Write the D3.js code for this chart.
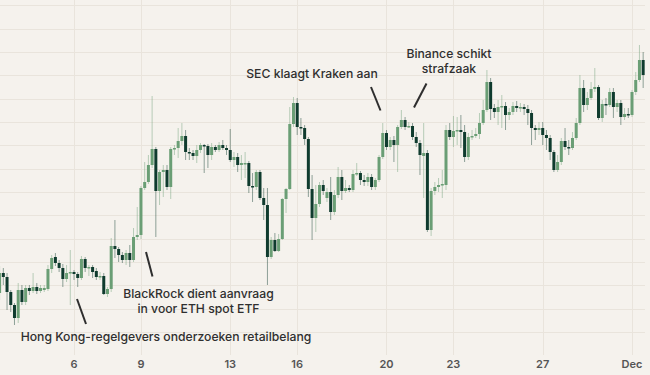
<!DOCTYPE html>
<html>
<head>
<meta charset="utf-8">
<script src="https://cdn.jsdelivr.net/npm/d3@7"></script>
<style>
  html, body { margin: 0; padding: 0; background: #f5f2ed; }
  #chart { width: 650px; height: 375px; }
  text { font-family: Inter, "Noto Sans", sans-serif; }
</style>
</head>
<body>
<div id="chart"></div>
<script>
// 4-hour candles, first one opens Nov 2 16:00 UTC
const firstCandle = new Date(Date.UTC(2023, 10, 2, 16));
const candleHours = 4;

const opens = [
  1839,1859,1855,1840,1827,1814,1842,1830,1844,1841,
  1845,1841,1842,1843,1863,1875,1869,1864,1853,1859,
  1860,1858,1854,1873,1864,1865,1861,1855,1856,1838,
  1843,1886,1883,1877,1872,1879,1872,1895,1897,1944,
  1950,1967,1983,1941,1960,1962,1945,1983,1984,1991,
  1996,1980,1979,1976,1982,1987,1986,1977,1985,1982,
  1987,1984,1982,1972,1975,1967,1968,1969,1946,1945,
  1960,1934,1927,1875,1892,1881,1893,1933,1943,2008,
  2029,2005,2004,1993,1943,1914,1928,1947,1934,1940,
  1920,1937,1955,1941,1944,1942,1958,1959,1952,1950,
  1955,1945,1952,1975,1999,1985,1992,1987,2005,2012,
  2005,2006,1995,1989,1976,1979,1902,1941,1945,1947,
  1947,2002,1995,2001,2002,2000,1975,1995,1996,1998,
  2009,2022,2050,2024,2020,2025,2026,2017,2020,2026,
  2024,2025,2023,2019,2004,2002,2004,1997,1994,1980,
  1962,1970,1991,1985,1984,1994,2009,2044,2027,2034,
  2043,2045,2014,2028,2027,2040,2025,2029,2015,2018,
  2017,2040,2052,2072
];
const highs = [
  1866,1864,1859,1842,1829,1849,1847,1847,1847,1859,
  1849,1847,1847,1867,1877,1879,1872,1868,1867,1882,
  1862,1860,1876,1875,1867,1867,1864,1860,1859,1845,
  1894,1912,1885,1880,1882,1887,1904,1925,1946,1970,
  1977,2036,1985,1962,1967,1967,1985,1987,2004,2009,
  2002,1984,1982,1987,1989,1988,1988,1989,1987,1990,
  1992,1987,2003,1980,1979,1977,1980,1971,1959,1962,
  1962,1944,1944,1895,1899,1898,1934,1944,2025,2035,
  2034,2014,2007,1995,1957,1947,1950,1952,1944,1955,
  1942,1965,1962,1952,1947,1962,1969,1961,1957,1959,
  1958,1954,1977,2009,2002,1995,1996,2007,2022,2015,
  2010,2009,2000,1992,2009,1982,1944,1950,1954,1962,
  2007,2009,2016,2015,2017,2007,1999,2002,2004,2019,
  2032,2062,2054,2028,2032,2037,2030,2024,2030,2031,
  2029,2028,2027,2022,2007,2010,2010,2002,1997,1982,
  1977,1994,2004,1992,2000,2014,2057,2052,2040,2050,
  2064,2047,2032,2034,2044,2044,2032,2032,2024,2024,
  2042,2060,2087,2080
];
const lows = [
  1832,1847,1822,1820,1807,1809,1827,1827,1837,1839,
  1838,1839,1840,1841,1859,1866,1860,1845,1850,1827,
  1852,1845,1852,1860,1856,1854,1852,1852,1837,1835,
  1840,1874,1870,1869,1867,1865,1870,1892,1893,1942,
  1948,1964,1895,1927,1935,1942,1933,1977,1974,1987,
  1972,1972,1972,1969,1979,1959,1964,1972,1980,1980,
  1982,1977,1970,1965,1960,1952,1954,1939,1930,1942,
  1932,1912,1847,1873,1880,1880,1892,1919,1942,2005,
  1997,1997,1987,1935,1892,1900,1925,1937,1930,1912,
  1917,1934,1932,1939,1940,1940,1956,1947,1946,1946,
  1942,1942,1950,1973,1982,1982,1970,1960,2003,2002,
  2004,1992,1985,1957,1934,1900,1896,1937,1940,1934,
  1942,1992,1985,1987,1984,1970,1972,1992,1994,1993,
  2007,2020,2012,2014,2007,2004,2002,2012,2017,2020,
  2020,2017,2007,1987,1992,1997,1987,1982,1972,1960,
  1960,1967,1982,1977,1982,1992,2007,2020,2022,2032,
  2040,2012,2010,2017,2025,2014,2020,2007,2012,2014,
  2015,2037,2050,2044
];
const closes = [
  1859,1855,1840,1827,1814,1842,1830,1844,1841,1845,
  1841,1844,1844,1863,1874,1869,1864,1853,1859,1860,
  1858,1854,1873,1864,1865,1860,1855,1856,1838,1843,
  1886,1883,1877,1872,1879,1872,1895,1897,1944,1950,
  1967,1983,1941,1960,1962,1945,1983,1984,1991,1996,
  1980,1979,1976,1982,1987,1986,1977,1985,1982,1987,
  1984,1982,1972,1975,1967,1969,1969,1946,1945,1960,
  1934,1927,1875,1892,1881,1893,1933,1943,2008,2029,
  2005,2004,1993,1943,1914,1928,1947,1941,1940,1920,
  1937,1955,1941,1944,1942,1958,1959,1952,1950,1955,
  1945,1952,1975,1999,1985,1992,1987,2005,2012,2005,
  2006,1995,1989,1977,1979,1902,1941,1945,1947,1948,
  2002,1995,2001,2002,2000,1975,1995,1996,1998,2009,
  2022,2050,2023,2020,2025,2026,2017,2020,2026,2024,
  2025,2023,2019,2004,2002,2004,1997,1994,1980,1962,
  1970,1991,1985,1984,1994,2009,2044,2027,2034,2043,
  2045,2014,2028,2027,2040,2025,2029,2015,2018,2017,
  2040,2052,2072,2057
];

// x axis ticks
const tickDates = [
  new Date(Date.UTC(2023, 10, 6)),
  new Date(Date.UTC(2023, 10, 9)),
  new Date(Date.UTC(2023, 10, 13)),
  new Date(Date.UTC(2023, 10, 16)),
  new Date(Date.UTC(2023, 10, 20)),
  new Date(Date.UTC(2023, 10, 23)),
  new Date(Date.UTC(2023, 10, 27)),
  new Date(Date.UTC(2023, 11, 1))
];
const tickLabels = ["6", "9", "13", "16", "20", "23", "27", "Dec"];

// annotations: text lines, label spot, pointer from/to
const notes = [
  { lines: ["Hong Kong-regelgevers onderzoeken retailbelang"], tx: 166, ty: 341,
    from: [77, 299], to: [86, 324] },
  { lines: ["BlackRock dient aanvraag", "in voor ETH spot ETF"], tx: 198.5, ty: 298,
    from: [146, 252], to: [152.5, 276.5] },
  { lines: ["SEC klaagt Kraken aan"], tx: 312, ty: 78,
    from: [371, 87], to: [380.5, 110.5] },
  { lines: ["Binance schikt", "strafzaak"], tx: 449, ty: 58,
    from: [426.5, 83.5], to: [414, 107.5] }
];

const width = 650, height = 375;
const upColor = "#6a9e75", downColor = "#0f3b2e";

const data = opens.map((o, i) => ({
  date: new Date(firstCandle.getTime() + i * candleHours * 3600 * 1000),
  open: o, high: highs[i], low: lows[i], close: closes[i]
}));

const x = d3.scaleUtc()
  .domain([tickDates[0], tickDates[tickDates.length - 1]])
  .range([74, 632]);

const y = d3.scaleLinear()
  .domain([1800, 2132])
  .range([332, 0]);

const svg = d3.select("#chart").append("svg")
  .attr("width", width)
  .attr("height", height);

svg.append("rect")
  .attr("width", width).attr("height", height)
  .attr("fill", "#f5f2ed");

//horizontal grid
const grid = svg.append("g").attr("class", "grid");
grid.selectAll(".hline")
  .data(d3.range(1800, 2132, 70 / 3))
  .enter().append("line")
  .attr("x1", 0).attr("x2", 645)
  .attr("y1", d => Math.round(y(d)) + 0.5)
  .attr("y2", d => Math.round(y(d)) + 0.5)
  .attr("stroke", "#e9e4dc")
  .attr("stroke-width", 1);

//vertical grid at the ticks
grid.selectAll(".vline")
  .data(tickDates)
  .enter().append("line")
  .attr("x1", d => Math.round(x(d)) + 0.5)
  .attr("x2", d => Math.round(x(d)) + 0.5)
  .attr("y1", 0).attr("y2", 355)
  .attr("stroke", "#e9e4dc")
  .attr("stroke-width", 1);

//tick labels
svg.append("g").selectAll("text")
  .data(tickDates)
  .enter().append("text")
  .attr("x", d => x(d))
  .attr("y", 368)
  .attr("text-anchor", "middle")
  .attr("font-size", "11px")
  .attr("font-weight", 600)
  .attr("fill", "#555")
  .text((d, i) => tickLabels[i]);

//candles
const candles = svg.append("g").attr("class", "candles")
  .selectAll("g")
  .data(data)
  .enter().append("g");

candles.append("line")
  .attr("x1", d => x(d.date))
  .attr("x2", d => x(d.date))
  .attr("y1", d => y(d.high))
  .attr("y2", d => y(d.low))
  .attr("stroke", d => d.close >= d.open ? upColor : downColor)
  .attr("stroke-opacity", 0.45)
  .attr("stroke-width", 1);

candles.append("rect")
  .attr("x", d => x(d.date) - 1.5)
  .attr("width", 3)
  .attr("y", d => y(Math.max(d.open, d.close)))
  .attr("height", d => Math.max(1.5, Math.abs(y(d.open) - y(d.close))))
  .attr("fill", d => d.close >= d.open ? upColor : downColor);

//annotations
const ann = svg.append("g").attr("class", "annotations");
notes.forEach(n => {
  ann.append("line")
    .attr("x1", n.from[0]).attr("y1", n.from[1])
    .attr("x2", n.to[0]).attr("y2", n.to[1])
    .attr("stroke", "#2e2e2e")
    .attr("stroke-width", 2);
  const t = ann.append("text")
    .attr("text-anchor", "middle")
    .attr("font-size", "12.2px")
    .attr("font-weight", 500)
    .attr("fill", "#2f2f2f");
  n.lines.forEach((l, i) => {
    t.append("tspan")
      .attr("x", n.tx)
      .attr("y", n.ty + i * 15)
      .text(l);
  });
});
</script>
</body>
</html>
